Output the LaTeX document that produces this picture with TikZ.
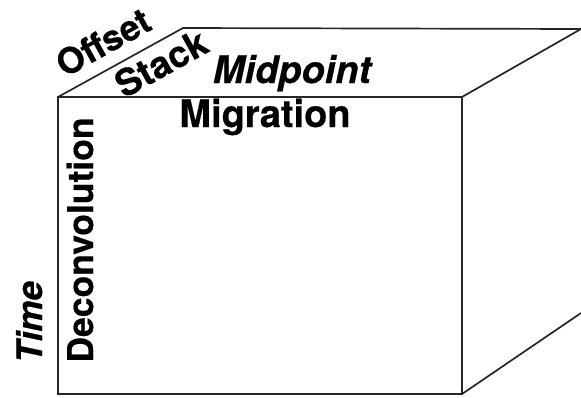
\documentclass[tikz,border=0pt]{standalone}
\usepackage{fontspec}
\setmainfont{TeX Gyre Heros}
\newfontfamily\heavy{texgyreheros-bold.otf}[FakeBold=0.5]
\newfontfamily\heavyit{texgyreheros-bolditalic.otf}[FakeBold=0.5]
\begin{document}
\begin{tikzpicture}[x=1pt,y=-1pt,
  edge/.style={line width=1.7pt,black!85,line join=miter},
  lbl/.style={inner sep=0pt}]
\useasboundingbox (0,0) rectangle (581,397);
% cube corners
\coordinate (ftl) at (58,97);
\coordinate (ftr) at (462,97);
\coordinate (fbr) at (462,394);
\coordinate (fbl) at (58,394);
\coordinate (btl) at (183,28);
\coordinate (btr) at (581,29);
\coordinate (bbr) at (581,313);
% front face
\draw[edge] (ftl) -- (ftr) -- (fbr) -- (fbl) -- cycle;
% top face
\draw[edge] (ftl) -- (btl) -- (btr) -- (ftr);
% lower receding edge
\draw[edge] (fbr) -- (bbr);
% labels
\node[lbl,anchor=base,font=\fontsize{38}{40}\heavy] (migration) at (265,127) {Migration};
\node[lbl,anchor=base,font=\fontsize{38}{40}\heavyit] (midpoint) at (292,83) {Midpoint};
\node[lbl,rotate=29,font=\fontsize{35.5}{40}\heavy] (offset) at (103,42) {Offset};
\node[lbl,rotate=29,font=\fontsize{37}{40}\heavy] (stack) at (161,63) {Stack};
\node[lbl,rotate=90,anchor=base,font=\fontsize{35.5}{40}\heavy] (deconv) at (93,240) {Deconvolution};
\node[lbl,rotate=90,anchor=base,font=\fontsize{35}{40}\heavyit] (time) at (42,322) {Time};
\end{tikzpicture}
\end{document}
